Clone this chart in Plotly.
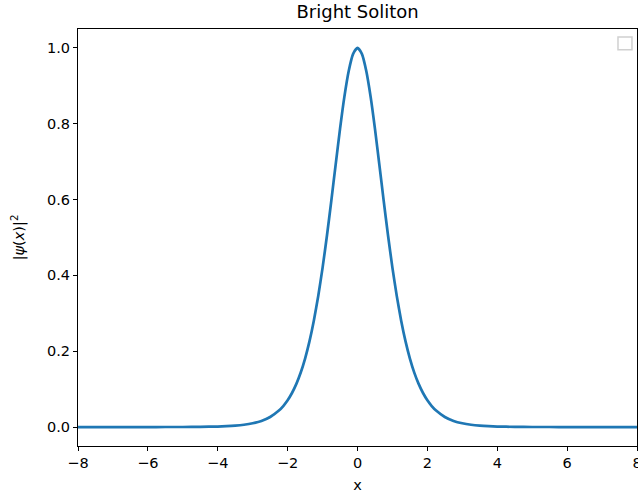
import plotly.graph_objects as go

x_vals = [-8, -7, -6, -5.5, -5, -4.5, -4, -3.75, -3.5, -3.25, -3, -2.75, -2.5, -2.25, -2.125,
          -2, -1.875, -1.75, -1.625, -1.5, -1.375, -1.25, -1.125, -1, -0.875, -0.75, -0.625, -0.5, -0.375, -0.25, -0.125,
          0, 0.125, 0.25, 0.375, 0.5, 0.625, 0.75, 0.875, 1, 1.125, 1.25, 1.375, 1.5, 1.625, 1.75, 1.875, 2,
          2.125, 2.25, 2.5, 2.75, 3, 3.25, 3.5, 3.75, 4, 4.5, 5, 5.5, 6, 7, 8]
psi_sq = [0.0, 0.000003, 0.000025, 0.000067, 0.00018, 0.00049, 0.00134, 0.00221, 0.00364, 0.0060, 0.0099, 0.0162, 0.0266, 0.0435, 0.0555,
          0.0707, 0.0898, 0.1138, 0.1437, 0.1807, 0.2259, 0.2804, 0.3453, 0.4200, 0.5045, 0.5966, 0.6924, 0.7864, 0.8716, 0.9400, 0.9845,
          1.0, 0.9845, 0.9400, 0.8716, 0.7864, 0.6924, 0.5966, 0.5045, 0.4200, 0.3453, 0.2804, 0.2259, 0.1807, 0.1437, 0.1138, 0.0898, 0.0707,
          0.0555, 0.0435, 0.0266, 0.0162, 0.0099, 0.0060, 0.00364, 0.00221, 0.00134, 0.00049, 0.00018, 0.000067, 0.000025, 0.000003, 0.0]

x_ticks = [-8, -6, -4, -2, 0, 2, 4, 6, 8]
x_tick_labels = ["\u22128", "\u22126", "\u22124", "\u22122", "0", "2", "4", "6", "8"]
y_ticks = [0.0, 0.2, 0.4, 0.6, 0.8, 1.0]
y_tick_labels = ["0.0", "0.2", "0.4", "0.6", "0.8", "1.0"]

font = "DejaVu Sans"
fs = 14.5

fig = go.Figure()
fig.add_trace(go.Scatter(x=x_vals, y=psi_sq, mode="lines",
                         line=dict(color="#1f77b4", width=2.7, shape="spline", smoothing=0.6),
                         showlegend=False))

axis_common = dict(showline=True, linecolor="black", linewidth=1, mirror=True, ticks="outside",
                   ticklen=4, tickwidth=1, tickcolor="black", showgrid=False, zeroline=False,
                   automargin=False, tickfont=dict(family=font, size=fs, color="black"))

fig.update_layout(
    width=638, height=498,
    margin=dict(l=78, r=1, t=29, b=52),
    paper_bgcolor="white", plot_bgcolor="white",
    title=dict(text="Bright Soliton", x=0.5606, xanchor="center", y=1 - 12 / 498, yanchor="middle",
               font=dict(family=font, size=18, color="black")),
    xaxis=dict(range=[-8, 8], tickvals=x_ticks, ticktext=x_tick_labels, ticklabeloverflow="allow",
               title=dict(text="x", font=dict(family=font, size=fs, color="black"), standoff=9), **axis_common),
    yaxis=dict(range=[-0.05, 1.05], tickvals=y_ticks, ticktext=y_tick_labels,
               title=dict(text="|<i>\u03c8</i>(<i>x</i>)|<sup>2</sup>", font=dict(family=font, size=fs, color="black"), standoff=18),
               **axis_common),
    font=dict(family=font),
)

fig.add_shape(type="rect", xref="paper", yref="paper", x0=0.966, x1=0.991, y0=0.950, y1=0.981,
              line=dict(color="#d0d0d0", width=1.5), fillcolor="white")

fig.write_html("out.html")
